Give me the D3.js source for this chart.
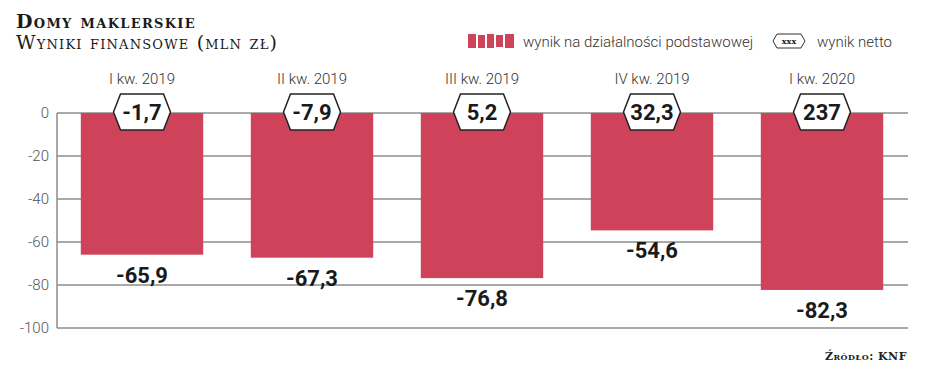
<!DOCTYPE html>
<html><head><meta charset="utf-8">
<script src="https://cdn.jsdelivr.net/npm/d3@7/dist/d3.min.js"></script>
<style>
html,body{margin:0;padding:0;background:#fff;}
svg{display:block;}
</style></head>
<body>
<svg id="c" width="948" height="390"></svg>
<script>
const categories = ["I kw. 2019","II kw. 2019","III kw. 2019","IV kw. 2019","I kw. 2020"];
const operatingResult = [-65.9,-67.3,-76.8,-54.6,-82.3];
const netResult = [-1.7,-7.9,5.2,32.3,237];
const yTicks = [0,-20,-40,-60,-80,-100];

const fmt = v => String(v).replace(".", ",");
const svg = d3.select("#c");
const RED = "#cf435a";
const GRID = "#8c8c8c";
const SANS = "Roboto, 'Liberation Sans', sans-serif";
const SERIF = "'DejaVu Serif', serif";

const x = d3.scaleBand().domain(categories).range([57, 907]).paddingInner(0.28).paddingOuter(0.14);
const y = d3.scaleLinear().domain([-100, 0]).range([328, 113]);

// Title
svg.append("text").attr("x", 16).attr("y", 28)
  .attr("font-family", SERIF).attr("font-weight", "bold").attr("font-size", 19)
  .attr("letter-spacing", 1.3)
  .style("font-variant", "small-caps").attr("fill", "#1a1a1a").text("Domy maklerskie");
svg.append("text").attr("x", 16).attr("y", 49)
  .attr("font-family", SERIF).attr("font-size", 19).attr("letter-spacing", 1.2)
  .style("font-variant", "small-caps").attr("fill", "#1a1a1a").text("Wyniki finansowe (mln zł)");

// Legend
const lg = svg.append("g");
const legRects = [[468,34,8,14],[478,35,7,13],[487,34,7,14],[496,35,7,12],[505,34,9,14]];
lg.selectAll("rect").data(legRects).join("rect")
  .attr("x", d => d[0]).attr("y", d => d[1]).attr("width", d => d[2]).attr("height", d => d[3])
  .attr("fill", RED);
lg.append("text").attr("x", 523).attr("y", 47).attr("font-family", SANS).attr("font-weight", 300)
  .attr("font-size", 15).attr("fill", "#333").text("wynik na działalności podstawowej");
const hexPath = (cx, cy, w, h, inset) => {
  const l = cx - w/2, r = cx + w/2, t = cy - h/2, b = cy + h/2;
  return `M${l},${cy}L${l+inset},${t}L${r-inset},${t}L${r},${cy}L${r-inset},${b}L${l+inset},${b}Z`;
};
lg.append("path").attr("d", hexPath(789, 41, 32, 14, 4)).attr("fill", "#fff").attr("stroke", "#333").attr("stroke-width", 1);
lg.append("text").attr("x", 789).attr("y", 44).attr("text-anchor", "middle").attr("font-family", SERIF)
  .attr("font-weight", "bold").attr("font-size", 8).attr("fill", "#222").text("xxx");
lg.append("text").attr("x", 817).attr("y", 47).attr("font-family", SANS).attr("font-weight", 300)
  .attr("font-size", 15).attr("fill", "#333").text("wynik netto");

// Gridlines
svg.append("g").selectAll("line").data(yTicks).join("line")
  .attr("x1", 57).attr("x2", 908).attr("y1", d => y(d)).attr("y2", d => y(d))
  .attr("stroke", GRID).attr("stroke-width", 1.5);
svg.append("line").attr("x1", 57).attr("x2", 57).attr("y1", y(0)).attr("y2", y(-100))
  .attr("stroke", GRID).attr("stroke-width", 1.5);

// Y axis labels
const yAxis = d3.axisLeft(y).tickValues(yTicks).tickSize(0).tickPadding(8).tickFormat(d => String(d));
const ya = svg.append("g").attr("transform", "translate(57,0)").call(yAxis);
ya.select(".domain").remove();
ya.selectAll("text").attr("font-family", SANS).attr("font-weight", 300).attr("font-size", 15).attr("fill", "#555");

// Bars
svg.append("g").selectAll("rect").data(operatingResult).join("rect")
  .attr("x", (d, i) => x(categories[i])).attr("width", x.bandwidth())
  .attr("y", y(0)).attr("height", d => y(d) - y(0)).attr("fill", RED);

// Value labels under bars
svg.append("g").selectAll("text").data(operatingResult).join("text")
  .attr("x", (d, i) => x(categories[i]) + x.bandwidth()/2)
  .attr("y", d => y(d) + 28)
  .attr("text-anchor", "middle").attr("font-family", SANS).attr("font-weight", "bold")
  .attr("font-size", 22).attr("fill", "#1a1a1a").text(d => fmt(d));

// Category labels
svg.append("g").selectAll("text").data(categories).join("text")
  .attr("x", d => x(d) + x.bandwidth()/2).attr("y", 84)
  .attr("text-anchor", "middle").attr("font-family", SANS).attr("font-weight", 300)
  .attr("font-size", 15).attr("fill", "#333").text(d => d);

// Net result hexagons
const hx = svg.append("g");
hx.selectAll("path").data(netResult).join("path")
  .attr("d", (d, i) => hexPath(x(categories[i]) + x.bandwidth()/2, y(0) - 1, 57, 36, 7))
  .attr("fill", "#fff").attr("stroke", "#222").attr("stroke-width", 1.5);
hx.selectAll("text").data(netResult).join("text")
  .attr("x", (d, i) => x(categories[i]) + x.bandwidth()/2).attr("y", y(0) + 7)
  .attr("text-anchor", "middle").attr("font-family", SANS).attr("font-weight", "bold")
  .attr("font-size", 22).attr("fill", "#1a1a1a").text(d => fmt(d));

// Source
svg.append("text").attr("x", 907).attr("y", 360).attr("text-anchor", "end")
  .attr("font-family", SERIF).attr("font-weight", "bold").attr("font-size", 11)
  .attr("letter-spacing", 0.5)
  .style("font-variant", "small-caps").attr("fill", "#222").text("Źródło: KNF");
</script>
</body></html>
